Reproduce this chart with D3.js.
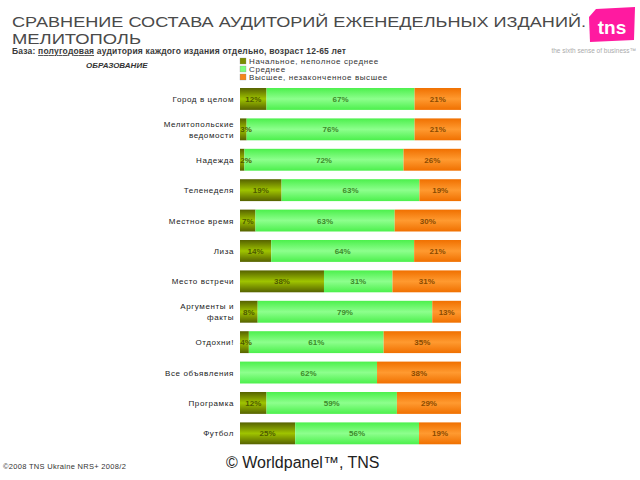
<!DOCTYPE html>
<html><head><meta charset="utf-8">
<script src="https://cdn.jsdelivr.net/npm/d3@7"></script>
<style>body{margin:0;background:#fff}svg{display:block;font-family:"Liberation Sans",Arial,sans-serif}</style>
</head><body><svg id="c" width="640" height="480"></svg>
<script>
const categories = [["Город в целом"],["Мелитопольские","ведомости"],["Надежда"],["Теленеделя"],["Местное время"],["Лиза"],["Место встречи"],["Аргументы и","факты"],["Отдохни!"],["Все объявления"],["Програмка"],["Футбол"]];
const seriesNames = ["Начальное, неполное среднее","Среднее","Высшее, незаконченное высшее"];
const primary = [12,3,2,19,7,14,38,8,4,0,12,25];
const secondary = [67,76,72,63,63,64,31,79,61,62,59,56];
const higher = [21,21,26,19,30,21,31,13,35,38,29,19];

const svg = d3.select("#c");
const defs = svg.append("defs");
const grads = [["g0","#566200","#9fc400"],["g1","#4cf04c","#8dff8d"],["g2","#f07000","#ff9a30"]];
grads.forEach(([id,edge,mid])=>{
  const g = defs.append("linearGradient").attr("id",id).attr("x1",0).attr("x2",0).attr("y1",0).attr("y2",1);
  g.append("stop").attr("offset","0%").attr("stop-color",edge);
  g.append("stop").attr("offset","50%").attr("stop-color",mid);
  g.append("stop").attr("offset","100%").attr("stop-color",edge);
});

// Title
svg.append("text").attr("x",12).attr("y",27).attr("font-size",15.5).attr("fill","#4a4a4a")
  .attr("textLength",574).attr("lengthAdjust","spacingAndGlyphs")
  .text("СРАВНЕНИЕ СОСТАВА АУДИТОРИЙ ЕЖЕНЕДЕЛЬНЫХ ИЗДАНИЙ.");
svg.append("text").attr("x",12).attr("y",44).attr("font-size",15.5).attr("fill","#4a4a4a")
  .attr("textLength",129).attr("lengthAdjust","spacingAndGlyphs").text("МЕЛИТОПОЛЬ");
const sub = svg.append("text").attr("x",12).attr("y",54).attr("font-size",8.5).attr("font-weight","bold").attr("fill","#3a3a3a")
  .attr("textLength",334).attr("lengthAdjust","spacing");
sub.append("tspan").text("База: ");
sub.append("tspan").attr("text-decoration","underline").text("полугодовая");
sub.append("tspan").text(" аудитория каждого издания отдельно, возраст 12-65 лет");

svg.append("text").attr("x",86).attr("y",68).attr("font-size",8).attr("font-weight","bold")
  .attr("font-style","italic").attr("fill","#333").text("ОБРАЗОВАНИЕ");

// Logo
const logo = svg.append("g");
logo.append("path").attr("d","M596,9 L635,7 L634,40 L590,42 L589,17 Z").attr("fill","#ff1aa0");
logo.append("text").attr("x",612).attr("y",34).attr("text-anchor","middle").attr("font-size",19)
  .attr("font-weight","bold").attr("fill","#fff").text("tns");
svg.append("text").attr("x",636).attr("y",53).attr("text-anchor","end").attr("font-size",6.5)
  .attr("fill","#aaa").text("the sixth sense of business\u2122");

// Legend
const fills = ["url(#g0)","url(#g1)","url(#g2)"];
const legColors = ["#7a8c00","#7dff7d","#f5851c"];
seriesNames.forEach((n,i)=>{
  const y = 58 + i*8;
  svg.append("rect").attr("x",240).attr("y",y).attr("width",6).attr("height",6).attr("fill",legColors[i]).attr("stroke","#888").attr("stroke-width",0.3);
  svg.append("text").attr("x",249).attr("y",y+6).attr("font-size",8).attr("letter-spacing",0.6).attr("fill","#333").text(n);
});

// Bars
const y = d3.scaleBand().domain(d3.range(categories.length)).range([79.5,452.8]).paddingInner(0.28).paddingOuter(0.28);
const x = d3.scaleLinear().domain([0,100]).range([240,461]);
const rows = categories.map((c,i)=>{
  const vals=[primary[i],secondary[i],higher[i]];
  const tot=d3.sum(vals);
  let acc=0;
  return vals.map((v,k)=>{const s=acc/tot*100; acc+=v; return {i,k,v,x0:s,x1:acc/tot*100};});
});
const seg = svg.append("g").selectAll("g").data(rows).join("g");
seg.selectAll("rect").data(d=>d.filter(s=>s.v>0)).join("rect")
  .attr("x",d=>x(d.x0)).attr("width",d=>x(d.x1)-x(d.x0))
  .attr("y",d=>y(d.i)).attr("height",y.bandwidth()).attr("fill",d=>fills[d.k]);
seg.selectAll("text").data(d=>d.filter(s=>s.v>0)).join("text")
  .attr("x",d=>Math.max((x(d.x0)+x(d.x1))/2, d.v<5?246:0))
  .attr("y",d=>y(d.i)+y.bandwidth()/2+3).attr("text-anchor","middle")
  .attr("font-size",8).attr("font-weight","bold").attr("fill",d=>d.k===0?"#4e5a00":(d.k===1?"#3d8a2a":"#8a4a00"))
  .text(d=>d.v+"%");

// Category labels
categories.forEach((lines,i)=>{
  const cy = y(i)+y.bandwidth()/2;
  const t = svg.append("text").attr("x",234).attr("text-anchor","end").attr("font-size",8)
    .attr("letter-spacing",0.6).attr("fill","#222");
  lines.forEach((l,j)=>{
    t.append("tspan").attr("x",234).attr("y",cy+3+(j-(lines.length-1)/2)*11).text(l);
  });
});

// Footer
svg.append("text").attr("x",3).attr("y",469).attr("font-size",7.5).attr("letter-spacing",0.3).attr("fill","#333").text("©2008 TNS Ukraine  NRS+ 2008/2");
svg.append("text").attr("x",226).attr("y",468).attr("font-size",16).attr("fill","#222").text("© Worldpanel™, TNS");
</script></body></html>
